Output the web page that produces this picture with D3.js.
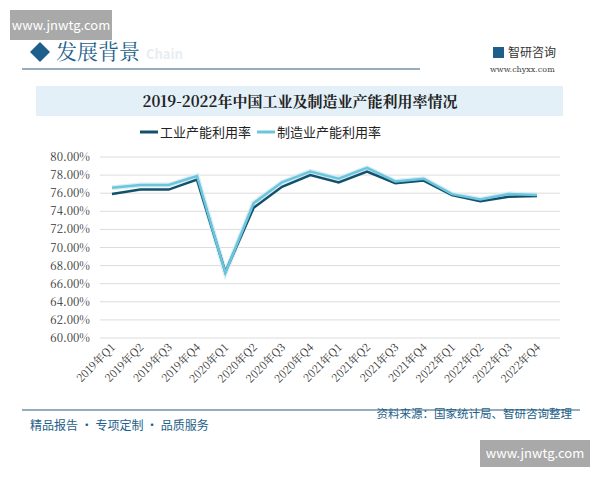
<!DOCTYPE html>
<html><head><meta charset="utf-8">
<script src="https://cdn.jsdelivr.net/npm/d3@7"></script>
<style>body{margin:0;background:#fff;font-family:"Noto Sans CJK SC",sans-serif}</style>
</head><body>
<script>
const quarters = ["2019年Q1","2019年Q2","2019年Q3","2019年Q4","2020年Q1","2020年Q2","2020年Q3","2020年Q4","2021年Q1","2021年Q2","2021年Q3","2021年Q4","2022年Q1","2022年Q2","2022年Q3","2022年Q4"];
const industry = [75.9,76.4,76.4,77.5,67.3,74.4,76.7,78.0,77.2,78.4,77.1,77.4,75.8,75.1,75.6,75.7];
const manufacturing = [76.6,76.9,76.9,77.9,67.2,74.9,77.2,78.4,77.6,78.8,77.3,77.6,75.9,75.3,75.9,75.8];
const yTicks = [60,62,64,66,68,70,72,74,76,78,80];
const seriesNames = ["工业产能利用率","制造业产能利用率"];
const seriesColors = ["#12506b","#6cc5dc"];

const svg = d3.select("body").append("svg").attr("width",600).attr("height",480);
const serif = "'Noto Serif CJK SC','Noto Sans CJK SC',serif";

// header
svg.append("rect").attr("x",10).attr("y",10).attr("width",102).attr("height",30).attr("fill","#a9a9a9");
svg.append("text").attr("x",61).attr("y",30).attr("text-anchor","middle").attr("fill","#fff").attr("font-size",13).text("www.jnwtg.com");
svg.append("path").attr("d","M28,44 L38,54 L28,64 L18,54 Z").attr("fill","#1d5f8a").attr("transform","translate(12,-2)");
svg.append("text").attr("x",56).attr("y",59).attr("font-size",21).attr("fill","#1d5f8a").attr("font-family",serif).text("发展背景");
svg.append("text").attr("x",146).attr("y",59).attr("font-size",13).attr("fill","#e8eef2").attr("font-weight","bold").text("Chain");
svg.append("line").attr("x1",22).attr("x2",420).attr("y1",69).attr("y2",69).attr("stroke","#2c5c7a").attr("stroke-width",1.2);
svg.append("text").attr("x",508).attr("y",57).attr("font-size",12).attr("fill","#333").text("智研咨询");
svg.append("rect").attr("x",493).attr("y",47).attr("width",11).attr("height",11).attr("fill","#1d5f8a");
svg.append("text").attr("x",490).attr("y",72).attr("font-size",8).attr("fill","#444").attr("font-family","DejaVu Serif").text("www.chyxx.com");

// title band
svg.append("rect").attr("x",36).attr("y",86).attr("width",527).attr("height",30).attr("fill","#e3f0f8");
svg.append("text").attr("x",300).attr("y",107).attr("text-anchor","middle").attr("font-size",15).attr("font-weight","bold").attr("fill","#222").attr("font-family",serif).text("2019-2022年中国工业及制造业产能利用率情况");

// legend
const lg = svg.append("g").attr("transform","translate(140,132)");
seriesNames.forEach((n,i)=>{
  const x = i*117;
  lg.append("line").attr("x1",x).attr("x2",x+18).attr("y1",0).attr("y2",0).attr("stroke",seriesColors[i]).attr("stroke-width",3);
  lg.append("text").attr("x",x+20).attr("y",5).attr("font-size",13).attr("fill","#222").text(n);
});

const m = {l:100,r:560,t:157,b:338};
const x = d3.scalePoint().domain(quarters).range([112,537]);
const y = d3.scaleLinear().domain([60,80]).range([m.b,m.t]);

svg.append("g").selectAll("line").data(yTicks).join("line")
  .attr("x1",m.l).attr("x2",m.r).attr("y1",d=>y(d)).attr("y2",d=>y(d)).attr("stroke","#dcdcdc");
svg.append("g").selectAll("text").data(yTicks).join("text")
  .attr("x",90).attr("y",d=>y(d)+4).attr("text-anchor","end").attr("font-size",11.5).attr("fill","#333")
  .attr("font-family",serif).text(d=>d.toFixed(2)+"%");

svg.append("g").selectAll("text").data(quarters).join("text")
  .attr("transform",d=>`translate(${x(d)+4},${m.b+10}) rotate(-45)`)
  .attr("text-anchor","end").attr("font-size",11).attr("fill","#333").attr("font-family",serif).text(d=>d);

const line = d3.line().x((d,i)=>x(quarters[i])).y(d=>y(d));
svg.append("path").attr("d",line(manufacturing)).attr("fill","none").attr("stroke","#d8eef5").attr("stroke-width",5);
svg.append("path").attr("d",line(industry)).attr("fill","none").attr("stroke",seriesColors[0]).attr("stroke-width",2.5);
svg.append("path").attr("d",line(manufacturing)).attr("fill","none").attr("stroke",seriesColors[1]).attr("stroke-width",2.5);

// footer
svg.append("line").attr("x1",22).attr("x2",580).attr("y1",410).attr("y2",410).attr("stroke","#2c5c7a").attr("stroke-width",1.2);
svg.append("text").attr("x",30).attr("y",430).attr("font-size",12).attr("fill","#1d5f8a").text("精品报告 · 专项定制 · 品质服务");
svg.append("text").attr("x",572).attr("y",418).attr("text-anchor","end").attr("font-size",11.5).attr("fill","#1d5f8a").text("资料来源：国家统计局、智研咨询整理");
svg.append("rect").attr("x",480).attr("y",440).attr("width",110).attr("height",27).attr("fill","#a9a9a9");
svg.append("text").attr("x",535).attr("y",458).attr("text-anchor","middle").attr("fill","#fff").attr("font-size",13).text("www.jnwtg.com");
</script>
</body></html>
